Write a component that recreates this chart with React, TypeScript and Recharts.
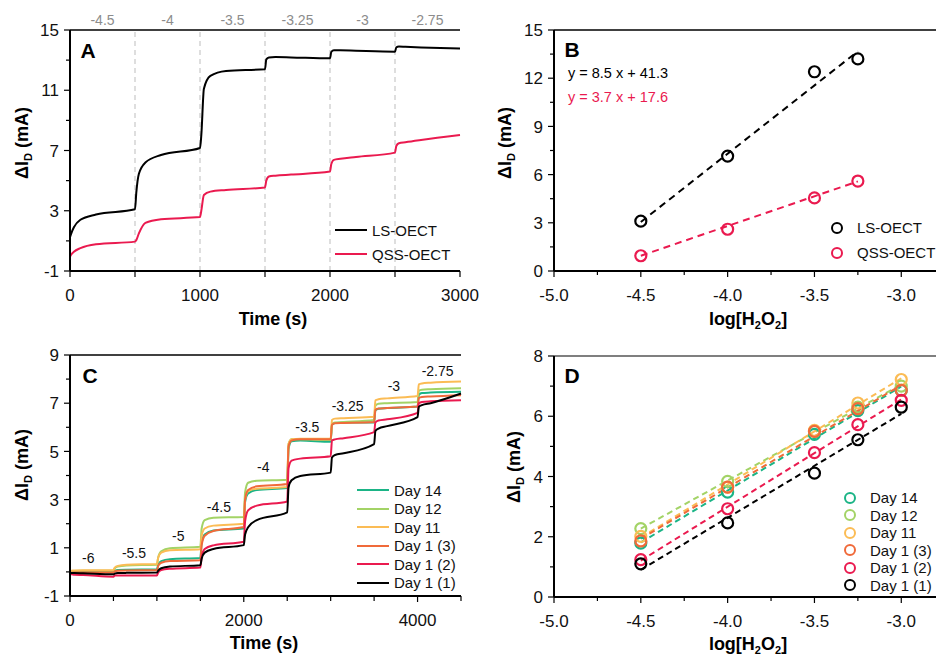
import React from 'react';
import {
  LineChart,
  ComposedChart,
  Line,
  Scatter,
  XAxis,
  YAxis,
  ReferenceLine,
  ReferenceDot,
  Legend,
} from 'recharts';

const FONT = '"Liberation Sans", Arial, Helvetica, sans-serif';

// ---------- panel A: response vs time ----------
const aTime = [0, 10, 30, 80, 200, 500, 510, 530, 580, 700, 1000, 1010, 1030, 1080, 1200, 1500, 1510, 1530, 1580, 1700, 2000, 2010, 2030, 2080, 2200, 2500, 2510, 2530, 2580, 2700, 3000];
const aLS = [1.25, 1.5, 1.9, 2.4, 2.75, 3.1, 4.2, 5.45, 6.2, 6.7, 7.17, 8.0, 11.1, 11.95, 12.28, 12.4, 13.05, 13.18, 13.2, 13.18, 13.12, 13.55, 13.65, 13.65, 13.62, 13.56, 13.85, 13.9, 13.88, 13.84, 13.77];
const aQSS = [-0.05, 0.1, 0.28, 0.52, 0.78, 0.95, 1.05, 1.5, 2.2, 2.44, 2.58, 3.0, 4.05, 4.27, 4.38, 4.55, 5.0, 5.27, 5.33, 5.4, 5.6, 6.1, 6.38, 6.45, 6.57, 6.86, 7.3, 7.48, 7.55, 7.7, 8.03];
const aStepTimes = [500, 1000, 1500, 2000, 2500];
const aConcMid = [250, 750, 1250, 1750, 2250, 2750];
const aConcLabels = ['-4.5', '-4', '-3.5', '-3.25', '-3', '-2.75'];
const aXTicks = [0, 500, 1000, 1500, 2000, 2500, 3000];
const aXLabeled = [0, 1000, 2000, 3000];
const aYTicks = [-1, 1, 3, 5, 7, 9, 11, 13, 15];
const aYLabeled = [-1, 3, 7, 11, 15];

// ---------- panel B: calibration ----------
const bX = [-4.5, -4, -3.5, -3.25];
const bLS = [3.1, 7.15, 12.4, 13.2];
const bQSS = [0.95, 2.6, 4.55, 5.6];
const bSlope = [8.5, 3.7];
const bIntercept = [41.3, 17.6];
const logXTicks = [-5, -4.75, -4.5, -4.25, -4, -3.75, -3.5, -3.25, -3];
const logXLabeled = [-5, -4.5, -4, -3.5, -3];
const bYTicks = [0, 1.5, 3, 4.5, 6, 7.5, 9, 10.5, 12, 13.5, 15];
const bYLabeled = [0, 3, 6, 9, 12, 15];

// ---------- panel C: stability, response vs time ----------
const cTime = [0, 15, 50, 150, 500, 515, 550, 650, 1000, 1015, 1050, 1150, 1500, 1515, 1550, 1650, 2000, 2015, 2050, 2150, 2500, 2515, 2550, 2650, 3000, 3015, 3050, 3150, 3500, 3515, 3550, 3650, 4000, 4015, 4050, 4150, 4500];
const cDay14 = [0.0, 0.0, 0.0, 0.02, 0.03, 0.05, 0.08, 0.09, 0.1, 0.3, 0.45, 0.53, 0.58, 1.2, 1.55, 1.72, 1.8, 2.9, 3.25, 3.4, 3.48, 5.1, 5.42, 5.45, 5.4, 6.1, 6.18, 6.2, 6.2, 6.7, 6.77, 6.8, 6.86, 7.35, 7.42, 7.44, 7.47];
const cDay12 = [0.03, 0.03, 0.04, 0.05, 0.05, 0.15, 0.22, 0.27, 0.3, 0.6, 0.85, 0.98, 1.04, 1.8, 2.15, 2.25, 2.28, 3.3, 3.7, 3.78, 3.82, 5.3, 5.5, 5.5, 5.47, 6.15, 6.2, 6.22, 6.3, 6.9, 6.98, 7.0, 7.05, 7.52, 7.56, 7.58, 7.62];
const cDay11 = [0.05, 0.05, 0.06, 0.07, 0.07, 0.18, 0.25, 0.3, 0.33, 0.6, 0.8, 0.9, 0.94, 1.5, 1.8, 1.92, 2.0, 3.0, 3.35, 3.45, 3.52, 5.3, 5.5, 5.52, 5.52, 6.3, 6.36, 6.38, 6.44, 7.12, 7.16, 7.2, 7.3, 7.78, 7.82, 7.85, 7.9];
const cDay1c = [-0.05, -0.03, -0.02, -0.02, -0.03, 0.02, 0.05, 0.06, 0.07, 0.25, 0.38, 0.45, 0.48, 1.1, 1.5, 1.7, 1.86, 3.0, 3.4, 3.55, 3.65, 5.2, 5.45, 5.5, 5.5, 6.1, 6.17, 6.18, 6.22, 6.72, 6.78, 6.8, 6.86, 7.22, 7.26, 7.28, 7.33];
const cDay1b = [-0.1, -0.1, -0.12, -0.13, -0.2, -0.15, -0.15, -0.15, -0.15, -0.02, 0.08, 0.13, 0.18, 0.6, 0.95, 1.1, 1.25, 2.1, 2.55, 2.75, 2.92, 4.3, 4.62, 4.7, 4.8, 5.45, 5.5, 5.55, 5.8, 6.2, 6.28, 6.33, 6.6, 7.0, 7.05, 7.08, 7.12];
const cDay1a = [-0.05, -0.05, -0.05, -0.06, -0.1, -0.07, -0.05, -0.04, -0.03, 0.05, 0.15, 0.22, 0.28, 0.55, 0.8, 0.95, 1.11, 1.55, 1.85, 2.15, 2.47, 3.5, 3.8, 3.98, 4.12, 4.75, 4.85, 4.92, 5.3, 5.85, 5.95, 6.05, 6.42, 6.85, 6.92, 7.0, 7.4];
const cConcText = ['-6', '-5.5', '-5', '-4.5', '-4', '-3.5', '-3.25', '-3', '-2.75'];
// label anchors in data units (time, mA)
const cConcAtT = [211, 736, 1246, 1714, 2224, 2731, 3195, 3728, 4231];
const cConcAtV = [0.56, 0.8, 1.49, 2.71, 4.34, 6.02, 6.9, 7.71, 8.34];
const cXTicks = [0, 500, 1000, 1500, 2000, 2500, 3000, 3500, 4000, 4500];
const cXLabeled = [0, 2000, 4000];
const cYTicks = [-1, 0, 1, 2, 3, 4, 5, 6, 7, 8, 9];
const cYLabeled = [-1, 1, 3, 5, 7, 9];

// ---------- panel D: stability, calibration ----------
const dX = [-4.5, -4, -3.5, -3.25, -3];
const dDay14 = [1.79, 3.48, 5.4, 6.19, 6.86];
const dDay12 = [2.27, 3.84, 5.5, 6.3, 7.0];
const dDay11 = [2.01, 3.65, 5.53, 6.44, 7.22];
const dDay1c = [1.86, 3.65, 5.5, 6.25, 6.86];
const dDay1b = [1.24, 2.93, 4.79, 5.72, 6.53];
const dDay1a = [1.1, 2.46, 4.11, 5.22, 6.3];
const dYTicks = [0, 1, 2, 3, 4, 5, 6, 7, 8];
const dYLabeled = [0, 2, 4, 6, 8];

const RED = '#ea1a4f';
const stability = [
  { name: 'Day 14', color: '#1bb486', c: cDay14, d: dDay14 },
  { name: 'Day 12', color: '#a3d366', c: cDay12, d: dDay12 },
  { name: 'Day 11', color: '#fbbc55', c: cDay11, d: dDay11 },
  { name: 'Day 1 (3)', color: '#f06a3a', c: cDay1c, d: dDay1c },
  { name: 'Day 1 (2)', color: RED, c: cDay1b, d: dDay1b },
  { name: 'Day 1 (1)', color: '#000000', c: cDay1a, d: dDay1a },
];

const aRows = aTime.map((t, i) => ({ t, ls: aLS[i], qss: aQSS[i] }));
const cRows = cTime.map((t, i) => {
  const row: Record<string, number> = { t };
  stability.forEach((s, k) => (row['s' + k] = s.c[i]));
  return row;
});
const pts = (xs: number[], ys: number[]) => xs.map((x, i) => ({ x, y: ys[i] }));
const lineFromEq = (xs: number[], m: number, b: number) => {
  const lo = Math.min(...xs);
  const hi = Math.max(...xs);
  return [{ x: lo, y: m * lo + b }, { x: hi, y: m * hi + b }];
};
const leastSquares = (xs: number[], ys: number[]) => {
  const n = xs.length;
  const mx = xs.reduce((a, b) => a + b, 0) / n;
  const my = ys.reduce((a, b) => a + b, 0) / n;
  let sxy = 0;
  let sxx = 0;
  xs.forEach((x, i) => {
    sxy += (x - mx) * (ys[i] - my);
    sxx += (x - mx) * (x - mx);
  });
  const m = sxy / sxx;
  return lineFromEq(xs, m, my - m * mx);
};

// ---------- axis ticks with minor marks ----------
const TS = 6;
const TM = 2;
const TICK_FONT = 17;

const leftTick = (labeled: number[], fmt: (v: number) => string) => (p: any) => {
  const v = p.payload.value;
  const major = labeled.includes(v);
  const ax = p.x + TS + TM;
  const len = major ? 6 : 4;
  return (
    <g>
      <line x1={ax - len} y1={p.y} x2={ax} y2={p.y} stroke="#000" strokeWidth={1.2} />
      {major && (
        <text x={ax - 11} y={p.y} dy="0.36em" textAnchor="end" fontSize={TICK_FONT} fill="#111">
          {fmt(v)}
        </text>
      )}
    </g>
  );
};

const bottomTick = (labeled: number[], fmt: (v: number) => string, minorLen = 4) => (p: any) => {
  const v = p.payload.value;
  const major = labeled.includes(v);
  const ay = p.y - TS - TM;
  const len = major ? 6 : minorLen;
  return (
    <g>
      <line x1={p.x} y1={ay} x2={p.x} y2={ay + len} stroke="#000" strokeWidth={1.2} />
      {major && (
        <text x={p.x} y={ay + 30} textAnchor="middle" fontSize={TICK_FONT} fill="#111">
          {fmt(v)}
        </text>
      )}
    </g>
  );
};

const ring = (color: string) => (p: any) =>
  <circle cx={p.cx} cy={p.cy} r={5.5} fill="none" stroke={color} strokeWidth={2.2} />;

type KeyItem = { name: string; color: string };

const Key = ({ items, rowH, mark }: { items: KeyItem[]; rowH: number; mark: 'line' | 'ring' }) => (
  <div style={{ fontFamily: FONT, fontSize: 15, color: '#111', whiteSpace: 'nowrap' }}>
    {items.map((it) => (
      <div key={it.name} style={{ display: 'flex', alignItems: 'center', height: rowH }}>
        {mark === 'line' ? (
          <span style={{ display: 'inline-block', width: 32, borderTop: `2.5px solid ${it.color}`, marginRight: 5 }} />
        ) : (
          <span
            style={{
              display: 'inline-block',
              width: 12,
              height: 12,
              boxSizing: 'border-box',
              border: `2.2px solid ${it.color}`,
              borderRadius: '50%',
              marginRight: 14,
            }}
          />
        )}
        <span>{it.name}</span>
      </div>
    ))}
  </div>
);

const frame = { stroke: '#000', strokeWidth: 1.6 };
const axisLine = { stroke: '#000', strokeWidth: 2 };

const YTitle = ({ x, y }: { x: number; y: number }) => (
  <div
    style={{
      position: 'absolute',
      left: x,
      top: y,
      transform: 'translate(-50%, -50%) rotate(-90deg)',
      fontWeight: 700,
      fontSize: 18,
      lineHeight: 1,
      whiteSpace: 'nowrap',
    }}
  >
    ΔI<span style={{ fontSize: 11, position: 'relative', top: 4 }}>D</span> (mA)
  </div>
);

const XTitle = ({ x, y, children }: { x: number; y: number; children: React.ReactNode }) => (
  <div
    style={{
      position: 'absolute',
      left: x,
      top: y,
      transform: 'translate(-50%, -50%)',
      fontWeight: 700,
      fontSize: 18,
      lineHeight: 1,
      whiteSpace: 'nowrap',
    }}
  >
    {children}
  </div>
);

const Letter = ({ x, y, t }: { x: number; y: number; t: string }) => (
  <div style={{ position: 'absolute', left: x, top: y, transform: 'translate(-50%, -50%)', fontWeight: 700, fontSize: 21, lineHeight: 1 }}>
    {t}
  </div>
);

const sub = (s: string) => <span style={{ fontSize: 11, position: 'relative', top: 4 }}>{s}</span>;

export default function App() {
  return (
    <div style={{ position: 'absolute', left: 0, top: 0, width: 936, height: 656, background: '#fff', fontFamily: FONT, overflow: 'hidden', color: '#000' }}>
      {/* A */}
      <div style={{ position: 'absolute', left: 0, top: 0 }}>
        <LineChart width={490} height={330} data={aRows} margin={{ top: 0, right: 30, bottom: 0, left: 0 }}>
          <XAxis xAxisId="top" orientation="top" type="number" domain={[0, 3000]} height={30} tick={false} tickLine={false} axisLine={frame} />
          <XAxis
            dataKey="t"
            type="number"
            domain={[0, 3000]}
            ticks={aXTicks}
            interval={0}
            height={59}
            tickSize={TS}
            tickMargin={TM}
            tickLine={false}
            axisLine={axisLine}
            tick={bottomTick(aXLabeled, (v) => String(v), 6)}
          />
          <YAxis
            type="number"
            domain={[-1, 15]}
            ticks={aYTicks}
            interval={0}
            width={70}
            tickSize={TS}
            tickMargin={TM}
            tickLine={false}
            axisLine={axisLine}
            tick={leftTick(aYLabeled, (v) => String(v))}
          />
          <YAxis yAxisId="r" orientation="right" width={0} domain={[-1, 15]} tick={false} tickLine={false} axisLine={frame} />
          {aStepTimes.map((t) => (
            <ReferenceLine key={t} x={t} stroke="#bdbdbd" strokeDasharray="5 4" strokeWidth={1} />
          ))}
          <Line type="monotone" dataKey="qss" stroke={RED} strokeWidth={2} dot={false} isAnimationActive={false} />
          <Line type="monotone" dataKey="ls" stroke="#000" strokeWidth={2} dot={false} isAnimationActive={false} />
          {/* grey concentration labels above the plot */}
          {aConcMid.map((t, i) => (
            <ReferenceDot
              key={'c' + t}
              x={t}
              y={15}
              r={0.5}
              fill="none"
              stroke="none"
              label={{ value: aConcLabels[i], position: 'top', offset: 5, fontSize: 14, fill: '#8c8c8c' }}
            />
          ))}
          <Legend
            layout="vertical"
            align="center"
            verticalAlign="middle"
            wrapperStyle={{ left: 335, top: 218, width: 'auto', height: 'auto' }}
            content={() => (
              <Key
                rowH={24}
                mark="line"
                items={[
                  { name: 'LS-OECT', color: '#000' },
                  { name: 'QSS-OECT', color: RED },
                ]}
              />
            )}
          />
        </LineChart>
      </div>

      {/* B */}
      <div style={{ position: 'absolute', left: 470, top: 0 }}>
        <ComposedChart width={466} height={330} margin={{ top: 0, right: 0, bottom: 0, left: 0 }}>
          <XAxis xAxisId="top" orientation="top" type="number" domain={[-5, -2.8]} height={30} tick={false} tickLine={false} axisLine={frame} />
          <XAxis
            dataKey="x"
            type="number"
            domain={[-5, -2.8]}
            ticks={logXTicks}
            interval={0}
            height={59}
            tickSize={TS}
            tickMargin={TM}
            tickLine={false}
            axisLine={axisLine}
            tick={bottomTick(logXLabeled, (v) => v.toFixed(1))}
          />
          <YAxis
            dataKey="y"
            type="number"
            domain={[0, 15]}
            ticks={bYTicks}
            interval={0}
            width={84}
            tickSize={TS}
            tickMargin={TM}
            tickLine={false}
            axisLine={axisLine}
            tick={leftTick(bYLabeled, (v) => String(v))}
          />
          <Line data={lineFromEq(bX, bSlope[0], bIntercept[0])} dataKey="y" type="linear" stroke="#000" strokeWidth={2} strokeDasharray="7 5" dot={false} activeDot={false} legendType="none" isAnimationActive={false} />
          <Line data={lineFromEq(bX, bSlope[1], bIntercept[1])} dataKey="y" type="linear" stroke={RED} strokeWidth={2} strokeDasharray="7 5" dot={false} activeDot={false} legendType="none" isAnimationActive={false} />
          <Scatter data={pts(bX, bLS)} dataKey="y" shape={ring('#000')} isAnimationActive={false} />
          <Scatter data={pts(bX, bQSS)} dataKey="y" shape={ring(RED)} isAnimationActive={false} />
          <Legend
            layout="vertical"
            align="center"
            verticalAlign="middle"
            wrapperStyle={{ left: 361, top: 215, width: 'auto', height: 'auto' }}
            content={() => (
              <Key
                rowH={25}
                mark="ring"
                items={[
                  { name: 'LS-OECT', color: '#000' },
                  { name: 'QSS-OECT', color: RED },
                ]}
              />
            )}
          />
        </ComposedChart>
      </div>

      {/* C */}
      <div style={{ position: 'absolute', left: 0, top: 330 }}>
        <LineChart width={490} height={326} data={cRows} margin={{ top: 0, right: 29, bottom: 0, left: 0 }}>
          <XAxis xAxisId="top" orientation="top" type="number" domain={[0, 4500]} height={25} tick={false} tickLine={false} axisLine={frame} />
          <XAxis
            dataKey="t"
            type="number"
            domain={[0, 4500]}
            ticks={cXTicks}
            interval={0}
            height={60}
            tickSize={TS}
            tickMargin={TM}
            tickLine={false}
            axisLine={axisLine}
            tick={bottomTick(cXLabeled, (v) => String(v), 5)}
          />
          <YAxis
            type="number"
            domain={[-1, 9]}
            ticks={cYTicks}
            interval={0}
            width={70}
            tickSize={TS}
            tickMargin={TM}
            tickLine={false}
            axisLine={axisLine}
            tick={leftTick(cYLabeled, (v) => String(v))}
          />
          <YAxis yAxisId="r" orientation="right" width={0} domain={[-1, 9]} tick={false} tickLine={false} axisLine={frame} />
          {stability.map((s, k) => (
            <Line key={s.name} type="monotone" dataKey={'s' + k} stroke={s.color} strokeWidth={2} dot={false} isAnimationActive={false} />
          ))}
          {cConcText.map((txt, i) => (
            <ReferenceDot
              key={txt}
              x={cConcAtT[i]}
              y={cConcAtV[i]}
              r={1}
              fill="none"
              stroke="none"
              label={{ value: txt, position: 'center', fontSize: 14, fill: '#111' }}
            />
          ))}
          <Legend
            layout="vertical"
            align="center"
            verticalAlign="middle"
            wrapperStyle={{ left: 357, top: 151, width: 'auto', height: 'auto' }}
            content={() => <Key rowH={18.5} mark="line" items={stability} />}
          />
        </LineChart>
      </div>

      {/* D */}
      <div style={{ position: 'absolute', left: 470, top: 330 }}>
        <ComposedChart width={466} height={326} margin={{ top: 0, right: 0, bottom: 0, left: 0 }}>
          <XAxis xAxisId="top" orientation="top" type="number" domain={[-5, -2.8]} height={26} tick={false} tickLine={false} axisLine={{ stroke: '#555', strokeWidth: 1.6 }} />
          <XAxis
            dataKey="x"
            type="number"
            domain={[-5, -2.8]}
            ticks={logXTicks}
            interval={0}
            height={59}
            tickSize={TS}
            tickMargin={TM}
            tickLine={false}
            axisLine={axisLine}
            tick={bottomTick(logXLabeled, (v) => v.toFixed(1))}
          />
          <YAxis
            dataKey="y"
            type="number"
            domain={[0, 8]}
            ticks={dYTicks}
            interval={0}
            width={84}
            tickSize={TS}
            tickMargin={TM}
            tickLine={false}
            axisLine={axisLine}
            tick={leftTick(dYLabeled, (v) => String(v))}
          />
          {stability.map((s) => (
            <Line
              key={'fit' + s.name}
              data={leastSquares(dX, s.d)}
              dataKey="y"
              type="linear"
              stroke={s.color}
              strokeWidth={2}
              strokeDasharray="6 4"
              dot={false}
              activeDot={false}
              legendType="none"
              isAnimationActive={false}
            />
          ))}
          {stability.map((s) => (
            <Scatter key={'pt' + s.name} data={pts(dX, s.d)} dataKey="y" shape={ring(s.color)} isAnimationActive={false} />
          ))}
          <Legend
            layout="vertical"
            align="center"
            verticalAlign="middle"
            wrapperStyle={{ left: 374, top: 159, width: 'auto', height: 'auto' }}
            content={() => <Key rowH={17.5} mark="ring" items={stability} />}
          />
        </ComposedChart>
      </div>

      {/* titles, panel letters, fit equations */}
      <YTitle x={22} y={143} />
      <YTitle x={505} y={143} />
      <YTitle x={22} y={465} />
      <YTitle x={514} y={467} />
      <XTitle x={273} y={319}>Time (s)</XTitle>
      <XTitle x={748} y={319}>log[H{sub('2')}O{sub('2')}]</XTitle>
      <XTitle x={264} y={643}>Time (s)</XTitle>
      <XTitle x={748} y={644}>log[H{sub('2')}O{sub('2')}]</XTitle>
      <Letter x={88} y={50} t="A" />
      <Letter x={572} y={49} t="B" />
      <Letter x={90} y={375} t="C" />
      <Letter x={572} y={375} t="D" />
      <div style={{ position: 'absolute', left: 568, top: 66, fontSize: 14.5, lineHeight: 1, whiteSpace: 'nowrap' }}>
        y = {bSlope[0]} x + {bIntercept[0]}
      </div>
      <div style={{ position: 'absolute', left: 568, top: 90, fontSize: 14.5, lineHeight: 1, whiteSpace: 'nowrap', color: RED }}>
        y = {bSlope[1]} x + {bIntercept[1]}
      </div>
    </div>
  );
}
